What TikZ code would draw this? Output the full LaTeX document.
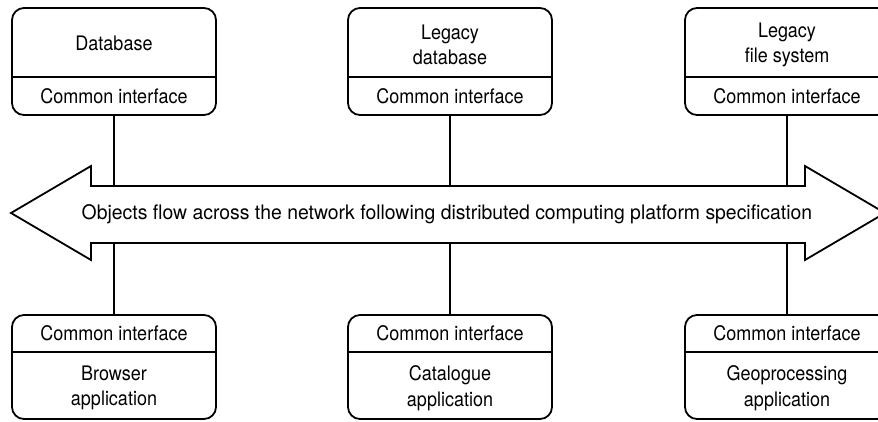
\documentclass[tikz,border=0pt]{standalone}
\usepackage{fontspec}
\setmainfont[FakeStretch=0.9]{TeX Gyre Heros}
\newfontfamily\flowfont[FakeStretch=0.97]{TeX Gyre Heros}
\begin{document}
\begin{tikzpicture}[x=1pt,y=-1pt,
  box/.style={draw, line width=1.8pt, rounded corners=12pt, minimum width=204pt, inner sep=0pt},
  topbox/.style={box, minimum height=107pt},
  botbox/.style={box, minimum height=104pt},
  txt/.style={font=\fontsize{20}{25.5}\selectfont, align=center, inner sep=0pt},
  divider/.style={line width=1.1pt},
  link/.style={line width=1.1pt},
  flowline/.style={draw, line width=1.8pt, line join=miter, fill=white}]
\useasboundingbox (0,0) rectangle (878,421);
\clip (0,0) rectangle (878,421);

% shaft edges of the two-headed arrow
\coordinate (shafttop) at (0,186);
\coordinate (shaftbot) at (0,243);

% upper row: data sources
\node[topbox] (db)  at (114,61.5) {};
\node[topbox] (ldb) at (450,61.5) {};
\node[topbox] (lfs) at (787,61.5) {};
\node[txt] (dbname)  at (114,43) {Database};
\node[txt] (ldbname) at (450,45) {Legacy\\database};
\node[txt] (lfsname) at (787,45) {Legacy\\file system};
\node[txt] (dbci)  at (114,96) {Common interface};
\node[txt] (ldbci) at (450,96) {Common interface};
\node[txt] (lfsci) at (787,96) {Common interface};
\foreach \b in {db,ldb,lfs}
  \draw[divider] (\b.west |- 0,77) -- (\b.east |- 0,77);

% lower row: applications
\node[botbox] (br)  at (114,367) {};
\node[botbox] (cat) at (450,367) {};
\node[botbox] (geo) at (787,367) {};
\node[txt] (brci)  at (114,333) {Common interface};
\node[txt] (catci) at (450,333) {Common interface};
\node[txt] (geoci) at (787,333) {Common interface};
\node[txt] (brname)  at (114,388) {Browser\\application};
\node[txt] (catname) at (450,388) {Catalogue\\application};
\node[txt] (geoname) at (787,388) {Geoprocessing\\application};
\foreach \b in {br,cat,geo}
  \draw[divider] (\b.west |- 0,352) -- (\b.east |- 0,352);

% connectors to the network
\foreach \b in {db,ldb,lfs}
  \draw[link] (\b.south) -- (\b.south |- shafttop);
\foreach \b in {br,cat,geo}
  \draw[link] (\b.north) -- (\b.north |- shaftbot);

% the network: a two-headed arrow
\path[flowline] (11,213) -- (91,166) -- (91,186) -- (805,186) -- (805,166)
  -- (885,213) -- (805,260) -- (805,243) -- (91,243) -- (91,260) -- cycle;
\node[txt, font=\flowfont\fontsize{20}{25.5}\selectfont] (flow) at (447,214)
  {Objects flow across the network following distributed computing platform specification};
\end{tikzpicture}
\end{document}
